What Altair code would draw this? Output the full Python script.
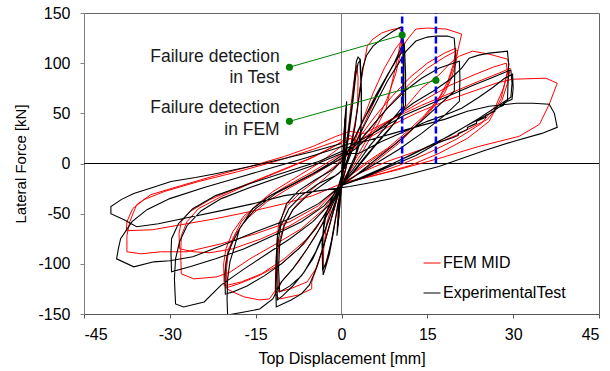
import altair as alt
import pandas as pd

# ---------------- data (displacement [mm], lateral force [kN]) ----------------
fem_c1 = [(0, -20), (0.3, 15), (0.6, 45), (0.4, 20), (0, -20), (-0.4, -50), (-0.6, -62), (-0.3, -35), (0, -20)]
fem_c2 = [(0.5, 0), (1.2, 35), (1.8, 65), (2.4, 92), (2.7, 98), (2.9, 85), (2.8, 55), (2.0, 25), (0.8, -5), (0, -22),
          (-0.8, -48), (-1.8, -80), (-2.8, -100), (-3.2, -104), (-3.1, -85), (-2.6, -60), (-1.5, -38), (0, -20)]
fem_c3 = [(0.5, -10), (1.5, 15), (2.5, 45), (3.5, 85), (4.5, 117), (5.5, 124), (7.0, 130), (8.5, 133), (10.1, 135),
          (10.6, 130), (9.8, 105), (8.8, 80), (7.8, 55), (6.0, 35), (3.5, 10), (1.0, -12), (0, -20), (-1.0, -40),
          (-2.5, -70), (-4.0, -98), (-5.2, -118), (-5.2, -125), (-7.5, -131), (-10.8, -135), (-11.6, -130),
          (-11.5, -105), (-11.3, -80), (-11.0, -60), (-9.5, -42), (-7.0, -28), (-4.0, -15), (-1.0, -2), (0.5, 8)]
fem_c4 = [(1.5, 10), (3.5, 40), (5.5, 70), (7.5, 95), (9.5, 115), (10.5, 122), (10.3, 110), (9.5, 90), (8.0, 65),
          (6.0, 40), (3.5, 15), (1.0, -10), (0, -20), (-1.5, -50), (-3.0, -80), (-4.5, -105), (-6.0, -118),
          (-9.0, -125), (-11.0, -128), (-11.2, -105), (-11.0, -80), (-10.0, -60), (-8.0, -42), (-5.0, -25),
          (-2.0, -10), (0.5, 5)]
fem_c5 = [(2.0, 15), (4.0, 40), (6.0, 65), (8.0, 88), (10.0, 108), (11.3, 122), (13.0, 134), (15.0, 135),
          (18.3, 134), (21.0, 129), (20.3, 112), (19.5, 95), (18.5, 78), (16.5, 60), (13.5, 40), (10.0, 20),
          (6.0, 2), (2.5, -12), (0, -20), (-2.0, -45), (-4.5, -72), (-7.5, -98), (-10.5, -118), (-12.6, -135),
          (-14.3, -136), (-17.0, -133), (-19.0, -128), (-20.0, -125), (-20.1, -105), (-19.8, -90), (-19.0, -75),
          (-17.5, -58), (-15.0, -42), (-12.0, -28), (-8.0, -14), (-4.0, 0), (-0.5, 15), (1.5, 25)]
fem_c6 = [(3.0, 20), (6.0, 42), (9.0, 62), (12.0, 80), (15.0, 95), (18.0, 106), (20.3, 113), (20.0, 100),
          (19.2, 85), (18.0, 70), (15.5, 52), (12.5, 35), (9.0, 18), (5.0, 2), (2.0, -10), (0, -20), (-2.5, -48),
          (-6.0, -75), (-10.0, -95), (-14.0, -110), (-17.5, -118), (-20.5, -122), (-20.6, -100), (-20.2, -85),
          (-19.0, -68), (-17.0, -52), (-13.5, -36), (-9.5, -22), (-5.0, -8), (-1.0, 6), (1.5, 15)]
fem_c6b = [(3.0, 25), (6.0, 48), (9.0, 68), (12.0, 86), (15.0, 100), (18.0, 110), (20.0, 115), (19.6, 100),
           (18.6, 82), (17.0, 65), (14.5, 48), (11.5, 32), (8.0, 15), (4.0, 0), (1.0, -14), (0, -20), (-3.0, -52),
           (-6.5, -80), (-10.5, -100), (-14.5, -112), (-18.0, -120), (-20.2, -124), (-20.3, -102), (-19.8, -86),
           (-18.5, -70), (-16.5, -55), (-13.0, -38), (-9.0, -24), (-4.5, -10), (-0.5, 4), (2.0, 15)]
fem_c7 = [(3.0, 18), (6.0, 32), (10.0, 48), (14.0, 75), (17.0, 88), (19.0, 100), (20.6, 107), (22.9, 112),
          (25.8, 109), (29.0, 104), (29.3, 99), (28.6, 82), (27.9, 65), (25.8, 42), (22.0, 25), (17.0, 10),
          (12.0, -2), (7.0, -10), (3.0, -16), (0, -20), (-3.0, -45), (-7.0, -65), (-12.0, -82), (-16.0, -95),
          (-19.4, -108), (-21.8, -113), (-25.8, -115), (-28.0, -110), (-28.1, -90), (-28.0, -72), (-27.0, -58),
          (-25.0, -45), (-21.0, -33), (-16.0, -20), (-10.0, -6), (-5.0, 6), (-1.0, 18), (1.5, 25)]
fem_c8 = [(3.0, 22), (7.0, 38), (11.0, 52), (15.0, 65), (19.0, 78), (23.0, 88), (26.5, 96), (28.8, 100),
          (29.0, 90), (28.3, 75), (27.0, 58), (24.5, 40), (20.0, 24), (15.0, 10), (10.0, -2), (5.0, -12), (0, -20),
          (-4.0, -45), (-9.0, -62), (-14.0, -75), (-19.0, -85), (-23.0, -89), (-25.8, -88), (-28.3, -85),
          (-28.4, -70), (-28.0, -58), (-26.5, -48), (-23.0, -36), (-18.0, -24), (-12.0, -10), (-6.0, 4),
          (-1.0, 18), (1.5, 28)]
fem_c9 = [(3.0, 20), (8.0, 36), (13.0, 50), (18.0, 62), (23.0, 72), (27.0, 80), (29.8, 84), (35.7, 85),
          (37.7, 80), (36.3, 59), (34.6, 39), (31.0, 27), (24.0, 17), (17.0, 5), (10.0, -6), (5.0, -13), (0, -20),
          (-4.0, -42), (-9.0, -58), (-15.0, -70), (-21.0, -80), (-27.0, -88), (-31.6, -88), (-35.0, -90),
          (-37.5, -88), (-37.5, -72), (-37.0, -58), (-35.8, -41), (-33.3, -31), (-28.0, -22), (-22.0, -12),
          (-16.0, -3), (-10.0, 7), (-5.0, 17), (-1.0, 27), (1.5, 32)]
fem_c10 = [(4.0, 30), (9.0, 45), (14.0, 58), (19.0, 70), (24.0, 82), (27.5, 90), (29.5, 95), (29.0, 80),
           (28.0, 62), (25.5, 44), (20.0, 28), (14.0, 14), (8.0, 2), (3.0, -10), (0, -20), (-5.0, -32),
           (-10.0, -40), (-16.0, -48), (-22.0, -55), (-28.0, -61), (-33.0, -66), (-37.6, -67), (-37.5, -58),
           (-36.5, -45), (-34.5, -36), (-31.0, -28), (-25.0, -18), (-18.0, -8), (-11.0, 3), (-5.0, 14), (0.0, 24)]

test_c1 = [(0, -20), (0.3, 10), (0.6, 42), (0.8, 58), (0.7, 38), (0.4, 5), (0.1, -18), (-0.3, -42), (-0.6, -62),
           (-0.8, -72), (-0.6, -50), (-0.3, -30), (0, -12), (0.3, 15), (0.6, 45), (0.9, 62), (0.7, 30), (0.3, -8),
           (-0.1, -28), (-0.5, -55), (-0.7, -68), (-0.4, -40), (0, -20)]
test_c2 = [(0.4, 0), (1.1, 28), (1.8, 58), (2.3, 85), (2.6, 102), (2.9, 106), (3.2, 104), (3.4, 80), (3.5, 45),
           (3.2, 20), (2.2, 2), (1.0, -12), (0, -22), (-0.7, -42), (-1.4, -68), (-2.1, -90), (-2.8, -104),
           (-3.2, -111), (-3.3, -92), (-3.2, -68), (-2.6, -48), (-1.6, -33), (-0.5, -22), (0.5, -2), (1.3, 30),
           (2.0, 62), (2.5, 88), (2.9, 100), (3.3, 103), (3.5, 70), (3.4, 30), (2.4, 8), (1.0, -10), (0, -22),
           (-0.9, -50), (-1.8, -78), (-2.6, -98), (-3.3, -107), (-3.4, -80), (-3.0, -55), (-1.8, -36), (-0.5, -22)]
test_c3 = [(0.3, -15), (1.3, 8), (2.4, 38), (3.2, 72), (3.7, 95), (4.4, 108), (5.5, 117), (7.0, 124), (8.8, 131),
           (10.0, 135), (10.4, 136), (10.7, 126), (11.0, 117), (11.2, 90), (11.2, 58), (9.5, 42), (7.0, 26),
           (4.0, 6), (1.5, -12), (0, -22), (-0.8, -35), (-1.8, -55), (-3.0, -80), (-4.3, -103), (-5.6, -121),
           (-7.0, -130), (-8.8, -136), (-10.3, -140), (-11.4, -143), (-11.5, -120), (-11.4, -95), (-11.2, -72),
           (-10.5, -55), (-9.6, -40), (-7.5, -27), (-4.5, -16), (-1.5, -6), (0.5, 5)]
test_c4 = [(1.8, 20), (3.5, 40), (5.5, 60), (7.5, 82), (9.2, 100), (10.4, 115), (10.8, 120), (10.9, 100),
           (10.9, 70), (10.8, 52), (8.5, 35), (5.5, 15), (2.5, -6), (0.3, -20), (-1.2, -40), (-2.8, -65),
           (-4.5, -88), (-6.5, -108), (-8.5, -122), (-10.3, -132), (-11.2, -136), (-11.3, -110), (-11.2, -82),
           (-10.6, -62), (-9.2, -45), (-7.0, -32), (-4.0, -20), (-1.0, -12), (0.5, -5)]
test_c4b = [(2.0, 22), (4.0, 45), (6.0, 68), (8.0, 88), (9.8, 105), (10.7, 112), (10.8, 95), (10.7, 70),
            (10.5, 55), (8.0, 38), (5.0, 18), (2.0, -6), (0, -21), (-1.5, -45), (-3.2, -72), (-5.0, -95),
            (-7.0, -112), (-9.0, -122), (-10.8, -128), (-11.0, -105), (-10.8, -80), (-10.0, -62), (-8.5, -46),
            (-6.0, -32), (-3.0, -20), (-0.5, -10), (1.0, 0)]
test_c5 = [(2.0, 15), (4.0, 38), (6.0, 60), (8.0, 82), (10.0, 100), (11.3, 112), (13.0, 122), (15.0, 126),
           (16.6, 127), (18.5, 127), (19.7, 125), (19.9, 110), (19.8, 90), (19.7, 72), (17.0, 58), (13.5, 40),
           (10.0, 22), (6.0, 4), (2.5, -12), (0, -22), (-1.5, -40), (-3.5, -62), (-6.0, -85), (-8.5, -105),
           (-10.5, -118), (-12.0, -135), (-14.3, -145), (-17.0, -148), (-19.9, -151), (-20.0, -135), (-19.9, -115),
           (-19.5, -98), (-18.8, -85), (-17.8, -65), (-15.5, -45), (-12.5, -32), (-9.0, -22), (-5.0, -10),
           (-1.5, 2), (0.5, 10)]
test_c6 = [(2.5, 18), (5.0, 35), (8.0, 55), (11.0, 72), (14.0, 85), (17.0, 95), (19.5, 100), (20.6, 102),
           (20.7, 85), (20.6, 62), (18.0, 48), (14.0, 30), (10.0, 14), (6.0, 0), (2.5, -12), (0, -22), (-2.0, -42),
           (-4.5, -65), (-7.5, -85), (-10.5, -100), (-13.5, -112), (-16.5, -122), (-19.0, -128), (-20.3, -130),
           (-20.4, -110), (-20.0, -92), (-19.0, -78), (-17.5, -62), (-15.0, -45), (-11.5, -30), (-7.5, -18),
           (-3.5, -6), (0.0, 5)]
test_c7 = [(2.5, 15), (5.5, 30), (9.0, 45), (12.5, 60), (16.0, 72), (19.0, 84), (21.0, 95), (22.3, 105),
           (24.0, 108), (25.8, 110), (27.5, 111), (29.0, 112), (29.2, 100), (29.1, 80), (29.0, 62), (26.0, 50),
           (22.0, 38), (17.0, 22), (12.0, 8), (7.0, -5), (3.0, -15), (0, -22), (-2.0, -40), (-5.0, -58),
           (-9.0, -75), (-13.0, -90), (-17.0, -105), (-21.0, -121), (-24.0, -138), (-27.6, -143), (-29.0, -140),
           (-29.2, -115), (-29.0, -95), (-28.3, -78), (-27.0, -62), (-24.5, -47), (-21.0, -35), (-16.0, -24),
           (-10.0, -12), (-5.0, -2), (0.0, 10)]
test_c8 = [(3.0, 10), (7.0, 22), (11.0, 32), (15.0, 42), (18.0, 48), (21.0, 55), (24.0, 66), (26.5, 76),
           (28.5, 85), (29.9, 89), (30.0, 75), (29.8, 64), (29.0, 62), (28.3, 60), (28.3, 58), (27.5, 56),
           (26.8, 54), (26.8, 52), (26.0, 50), (25.2, 48), (25.2, 46), (24.4, 44), (23.6, 42), (23.6, 40),
           (22.8, 38), (22.0, 36), (22.0, 34), (21.2, 32), (20.4, 30), (20.4, 28), (19.5, 26), (18.5, 24),
           (17.0, 21), (13.0, 8), (8.0, -4), (4.0, -14), (0, -22), (-3.0, -42), (-7.0, -58), (-12.0, -72),
           (-17.0, -85), (-22.0, -95), (-26.5, -103), (-29.7, -108), (-29.8, -90), (-29.7, -75), (-28.5, -60),
           (-26.0, -45), (-22.0, -32), (-16.0, -20), (-10.0, -9), (-4.0, 2), (0.0, 12)]
test_c9 = [(3.0, 22), (7.0, 35), (11.0, 48), (15.0, 58), (19.0, 68), (23.0, 78), (26.5, 86), (29.0, 92),
           (29.6, 93), (29.8, 80), (29.6, 66), (27.5, 58), (24.0, 45), (19.0, 28), (14.0, 14), (9.0, 0),
           (4.5, -12), (0, -22), (-4.0, -40), (-9.0, -55), (-15.0, -68), (-21.0, -82), (-26.0, -93), (-30.0, -97),
           (-32.8, -98), (-36.3, -103), (-39.3, -95), (-39.0, -85), (-38.6, -75), (-36.6, -58), (-34.0, -46),
           (-30.0, -35), (-24.0, -24), (-18.0, -14), (-12.0, -4), (-6.0, 6), (-1.0, 15), (1.5, 20)]
test_c10 = [(4.0, 22), (9.0, 30), (14.0, 38), (18.0, 44), (22.0, 52), (25.8, 57), (30.5, 60), (33.5, 60),
            (36.3, 59), (37.2, 50), (37.7, 36), (35.0, 30), (30.0, 22), (25.0, 13), (20.0, 3), (17.0, -3),
            (13.0, -9), (8.9, -15), (4.3, -20), (1.4, -23), (0, -24), (-5.0, -28), (-10.0, -32), (-15.4, -40),
            (-21.0, -47), (-27.0, -54), (-32.0, -60), (-35.8, -63), (-38.0, -56), (-40.3, -50), (-40.3, -43),
            (-38.5, -36), (-36.3, -30), (-33.0, -24), (-29.8, -18), (-25.5, -14), (-21.8, -10), (-16.0, -3),
            (-10.0, 5), (-5.0, 12), (0.0, 20)]

fem_cycles = [fem_c1, fem_c2, fem_c3, fem_c4, fem_c5, fem_c6, fem_c6b, fem_c7, fem_c8, fem_c9, fem_c10]
test_cycles = [test_c1, test_c2, test_c3, test_c4, test_c4b, test_c5, test_c6, test_c7, test_c8, test_c9, test_c10]

series_names = ["FEM MID", "ExperimentalTest"]
series_colors = ["#ff0000", "#000000"]

# failure detection markers
fail_x = [10.6, 16.5]
fail_y_top = [150, 150]
label_x = [-9.1, -9.1]
label_y = [96, 42]
point_y = [128, 83]
text_lines = ["Failure detection", "in Test", "Failure detection", "in FEM"]
text_y = [106, 85, 55, 33]
text_x = [-10.8, -10.8, -10.8, -10.8]

x_ticks = [-45, -30, -15, 0, 15, 30, 45]
y_ticks = [-150, -100, -50, 0, 50, 100, 150]


def build(cycles, name):
    rows = []
    k = 0
    for cyc in cycles:
        for x, y in cyc:
            rows.append({"disp": x, "force": y, "series": name, "k": k})
            k += 1
    return pd.DataFrame(rows)


fem_df = build(fem_cycles, series_names[0])
test_df = build(test_cycles, series_names[1])

FONT = "Liberation Sans"
xscale = alt.Scale(domain=[-45, 45], nice=False)
yscale = alt.Scale(domain=[-150, 150], nice=False)
color = alt.Color(
    "series:N",
    scale=alt.Scale(domain=series_names, range=series_colors),
    legend=alt.Legend(
        title=None, orient="none", legendX=339, legendY=241, padding=0,
        symbolType="stroke", symbolSize=289, symbolStrokeWidth=1,
        labelFontSize=16, labelFont=FONT, labelColor="#000000", labelOffset=2,
        rowPadding=13, labelLimit=300,
    ),
)

xaxis = alt.Axis(values=x_ticks, title="Top Displacement [mm]", grid=False, tickSize=4,
                 labelPadding=8, titlePadding=8, labelExpr="'' + datum.value",
                 domainColor="#555555", tickColor="#555555")
yaxis = alt.Axis(values=y_ticks, title="Lateral Force [kN]", grid=False, tickSize=4,
                 labelPadding=10, titlePadding=9, labelExpr="'' + datum.value",
                 domainColor="#808080", tickColor="#808080")

base_x = alt.X("disp:Q", scale=xscale, axis=xaxis)
base_y = alt.Y("force:Q", scale=yscale, axis=yaxis)

zero_df = pd.DataFrame({"v": [0]})
hzero = alt.Chart(zero_df).mark_rule(color="#000000", strokeWidth=1).encode(y=alt.Y("v:Q", scale=yscale))
vzero = alt.Chart(zero_df).mark_rule(color="#808080", strokeWidth=1).encode(x=alt.X("v:Q", scale=xscale))

fem_line = alt.Chart(fem_df).mark_line(strokeWidth=1, clip=True).encode(
    x=base_x, y=base_y, color=color, order="k:Q")
test_line = alt.Chart(test_df).mark_line(strokeWidth=1.1, clip=True).encode(
    x=alt.X("disp:Q", scale=xscale), y=alt.Y("force:Q", scale=yscale), color=color, order="k:Q")

blue_df = pd.DataFrame({"x": fail_x, "y0": [0, 0], "y1": fail_y_top})
blue = alt.Chart(blue_df).mark_rule(color="#0000ff", strokeWidth=2.5, strokeDash=[7, 3]).encode(
    x=alt.X("x:Q", scale=xscale), y=alt.Y("y0:Q", scale=yscale), y2="y1:Q")

green_df = pd.DataFrame({"x": label_x, "y": label_y, "x2": fail_x, "y2": point_y})
green_lines = alt.Chart(green_df).mark_rule(color="#008000", strokeWidth=1).encode(
    x=alt.X("x:Q", scale=xscale), y=alt.Y("y:Q", scale=yscale), x2="x2:Q", y2="y2:Q")
gpts_df = pd.DataFrame({"x": label_x + fail_x, "y": label_y + point_y})
green_pts = alt.Chart(gpts_df).mark_point(filled=True, color="#008000", size=50, opacity=1).encode(
    x=alt.X("x:Q", scale=xscale), y=alt.Y("y:Q", scale=yscale))

txt_df = pd.DataFrame({"x": text_x, "y": text_y, "t": text_lines})
texts = alt.Chart(txt_df).mark_text(align="right", baseline="middle", font=FONT, fontSize=17.5,
                                    color="#1a1a1a").encode(
    x=alt.X("x:Q", scale=xscale), y=alt.Y("y:Q", scale=yscale), text="t:N")

chart = alt.layer(hzero, vzero, fem_line, test_line, blue, green_lines, green_pts, texts).properties(
    width=515, height=301,
    autosize=alt.AutoSizeParams(type="none"),
    padding={"left": 84, "top": 13, "right": 11, "bottom": 57},
).configure_view(stroke="#666666").configure_axis(
    labelFont=FONT, titleFont=FONT, labelFontSize=16, titleFontSize=16, titleFontWeight="normal",
    labelColor="#000000", titleColor="#000000",
).configure_axisY(titleFontSize=15)

chart.save("out.html", embed_options={"renderer": "svg", "actions": False})
